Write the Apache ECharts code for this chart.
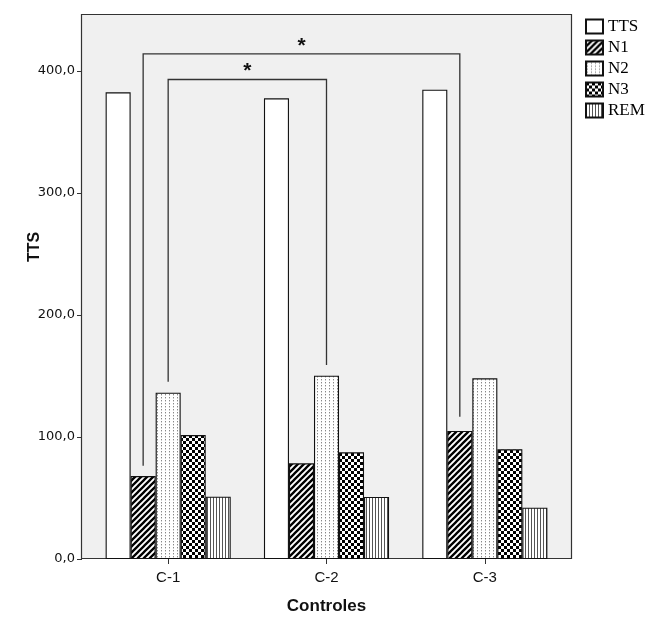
<!DOCTYPE html>
<html><head><meta charset="utf-8">
<script src="https://cdn.jsdelivr.net/npm/echarts@6/dist/echarts.min.js"></script>
<style>html,body{margin:0;padding:0;background:#fff}#c{width:659px;height:629px}</style>
</head><body><div id="c"></div>
<script>
// ---- data ----
const categories = ['C-1', 'C-2', 'C-3'];
const seriesNames = ['TTS', 'N1', 'N2', 'N3', 'REM'];
const tts = [382.5, 377.6, 384.7];
const n1 = [68.0, 78.4, 104.9];
const n2 = [136.3, 150.3, 148.1];
const n3 = [101.6, 87.4, 89.9];
const rem = [51.1, 50.8, 42.1];
const yTicks = [0, 100, 200, 300, 400];
// significance brackets: [catA, top, barA, catB, barB, legBottomA, legBottomB, label]
const brackets = [
  [0, 414, 1, 2, 1, 76.5, 116.6, '*'],
  [0, 393, 2, 1, 2, 145.3, 159.0, '*']
];

// ---- patterns ----
function pat(w, h, draw) {
  const c = document.createElement('canvas');
  c.width = w; c.height = h;
  const g = c.getContext('2d');
  g.fillStyle = '#fff'; g.fillRect(0, 0, w, h);
  draw(g);
  return { image: c, repeat: 'repeat' };
}
const patN1 = pat(6, 6, g => {
  g.strokeStyle = '#000'; g.lineWidth = 2.3;
  g.beginPath();
  g.moveTo(-2, 8); g.lineTo(8, -2);
  g.moveTo(-2, 2); g.lineTo(2, -2);
  g.moveTo(4, 8); g.lineTo(8, 4);
  g.stroke();
});
const patN2 = pat(4, 3, g => {
  g.fillStyle = '#888'; g.fillRect(1, 1, 1, 1.4);
});
const patN3 = pat(6, 6, g => {
  g.fillStyle = '#000'; g.fillRect(0, 0, 3, 3); g.fillRect(3, 3, 3, 3);
});
const patREM = pat(3, 1, g => {
  g.fillStyle = '#555'; g.fillRect(0, 0, 1, 1);
});
const fills = ['#ffffff', patN1, patN2, patN3, patREM];
const values = [tts, n1, n2, n3, rem];

const CAT_GAP = 0.21;
const chart = echarts.init(document.getElementById('c'), null, { renderer: 'canvas' });

const barSeries = seriesNames.map((name, i) => ({
  name: name,
  type: 'bar',
  data: values[i],
  barGap: '0%',
  barCategoryGap: (CAT_GAP * 100) + '%',
  itemStyle: { color: fills[i], borderColor: '#111', borderWidth: 1.1 },
  emphasis: { disabled: true },
  z: 3
}));

const bracketSeries = {
  type: 'custom',
  data: brackets,
  z: 4,
  silent: true,
  renderItem: function (params, api) {
    const band = api.size([1, 0])[0];
    const bw = band * (1 - CAT_GAP) / seriesNames.length;
    const catA = api.value(0), top = api.value(1), barA = api.value(2);
    const catB = api.value(3), barB = api.value(4);
    const botA = api.value(5), botB = api.value(6);
    const mid = (seriesNames.length - 1) / 2;
    const xA = api.coord([catA, 0])[0] + (barA - mid) * bw;
    const xB = api.coord([catB, 0])[0] + (barB - mid) * bw;
    const yT = api.coord([0, top])[1];
    const yA = api.coord([0, botA])[1];
    const yB = api.coord([0, botB])[1];
    return {
      type: 'group',
      children: [
        { type: 'polyline', shape: { points: [[xA, yA], [xA, yT], [xB, yT], [xB, yB]] },
          style: { stroke: '#333', lineWidth: 1.3, fill: null } },
        { type: 'text', x: (xA + xB) / 2, y: yT - 8,
          style: { text: brackets[params.dataIndex][7], fill: '#111', font: 'bold 21px "Liberation Sans"',
                   align: 'center', verticalAlign: 'middle' } }
      ]
    };
  }
};

chart.setOption({
  animation: false,
  backgroundColor: '#fff',
  grid: { left: 89, right: 95, top: 14, bottom: 70 },
  graphic: [
    { type: 'rect', z: -10, shape: { x: 81.5, y: 14.5, width: 490, height: 544 },
      style: { fill: '#f0f0f0', stroke: '#333', lineWidth: 1.2 } },
    { type: 'text', x: 35, y: 247, rotation: Math.PI / 2,
      style: { text: 'TTS', font: 'bold 16px "Liberation Sans"', fill: '#111', align: 'center', verticalAlign: 'middle' } }
  ],
  legend: {
    data: seriesNames,
    orient: 'vertical',
    left: 585, top: 18,
    padding: 0,
    itemWidth: 17, itemHeight: 14, itemGap: 4,
    icon: 'rect',
    selectedMode: false,
    textStyle: { fontFamily: 'Liberation Serif', fontSize: 17, lineHeight: 16, color: '#000', padding: [1, 0, 0, 0] }
  },
  xAxis: {
    type: 'category',
    data: categories,
    axisLine: { show: false },
    axisTick: { show: true, alignWithLabel: true, length: 5, lineStyle: { color: '#333' } },
    axisLabel: { fontFamily: 'Liberation Sans', fontSize: 15, color: '#111', margin: 11 },
    name: 'Controles',
    nameLocation: 'middle',
    nameGap: 39,
    nameTextStyle: { fontFamily: 'Liberation Sans', fontWeight: 'bold', fontSize: 17, color: '#111' }
  },
  yAxis: {
    type: 'value',
    min: 0, max: 446.7, interval: 100,
    offset: 7,
    axisLine: { show: false },
    axisTick: { show: true, length: 5, customValues: yTicks, lineStyle: { color: '#333' } },
    axisLabel: { customValues: yTicks, fontFamily: 'DejaVu Sans', fontSize: 13, color: '#111', margin: 7,
                 formatter: v => v.toFixed(1).replace('.', ',') },
    splitLine: { show: false }
  },
  series: barSeries.concat([bracketSeries])
});
</script>
</body></html>
